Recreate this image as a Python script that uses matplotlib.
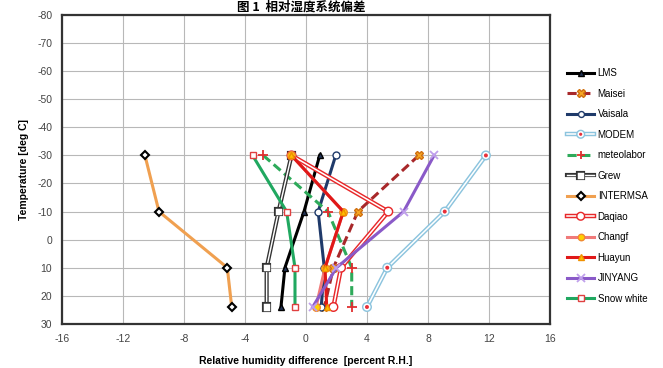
import matplotlib
matplotlib.use('Agg')
import matplotlib.pyplot as plt
import matplotlib.patheffects as pe

plt.rcParams['font.family'] = ['Liberation Sans Narrow', 'Liberation Sans', 'Noto Sans CJK SC']
plt.rcParams['axes.unicode_minus'] = False

# temperature levels (deg C)
temps = [-30, -10, 10, 24]

# relative humidity difference [%RH] per sonde, at each level
lms = [0.9, -0.13, -1.38, -1.64]
maisei = [7.4, 3.4, 1.8, 1.2]
vaisala = [1.95, 0.8, 1.2, 1.0]
modem = [11.8, 9.1, 5.33, 4.0]
meteolabor = [-2.8, 1.44, 3.0, 3.0]
grew = [-0.95, -1.8, -2.58, -2.58]
intermsa = [-10.56, -9.64, -5.16, -4.87]
daqiao = [-0.95, 5.4, 2.3, 1.8]
changf = [-0.95, 2.45, 1.25, 0.66]
huayun = [-0.95, 2.45, 1.25, 1.36]
jinyang = [8.4, 6.4, 2.0, 0.44]
snow_white = [-3.5, -1.27, -0.72, -0.72]

x_ticks = [-16, -12, -8, -4, 0, 4, 8, 12, 16]
y_ticks = [-80, -70, -60, -50, -40, -30, -20, -10, 0, 10, 20, 30]

fig = plt.figure(figsize=(6.63, 3.68), dpi=100)
ax = fig.add_axes([0.0935, 0.12, 0.736, 0.839])

def white_core(color, w):
    return [pe.Stroke(linewidth=w, foreground=color), pe.Stroke(linewidth=w * 0.35, foreground='white')]

lw = 2.2
ax.plot(lms, temps, color='black', lw=lw, marker='^', ms=5, mfc='#223355', mec='black', label='LMS')
ax.plot(maisei, temps, color='#a8282a', lw=lw, ls=(0, (3, 1.5)), marker='X', ms=6, mfc='#f5a623', mec='#d07010', label='Maisei')
ax.plot(vaisala, temps, color='#1f3a6a', lw=lw, marker='o', ms=5, mfc='white', mec='#1f3a6a', label='Vaisala')
ax.plot(modem, temps, color='#8cc4de', lw=lw, marker='o', ms=4, mfc='#e8303a', mec='#f08080',
        path_effects=white_core('#8cc4de', 3.2), label='MODEM')
ax.plot(meteolabor, temps, color='#2eaa5a', lw=lw, ls=(0, (3, 1.5)), marker='+', ms=7, mew=1.3, mec='#e03030', label='meteolabor')
ax.plot(grew, temps, color='#333333', lw=lw, marker='s', ms=4, mfc='white', mec='#333333',
        path_effects=white_core('#333333', 3.0), label='Grew')
ax.plot(intermsa, temps, color='#f0a050', lw=lw, marker='D', ms=4.5, mfc='white', mec='black', mew=1.5, label='INTERMSA')
ax.plot(daqiao, temps, color='#e8282a', lw=lw, marker='o', ms=4, mfc='white', mec='#e8282a',
        path_effects=white_core('#e8282a', 3.2), label='Daqiao')
ax.plot(changf, temps, color='#f07a7a', lw=lw, marker='o', ms=5.5, mfc='#ffd000', mec='#f08a30', label='Changf')
ax.plot(huayun, temps, color='#e01818', lw=lw, marker='^', ms=5, mfc='#ffc000', mec='#f09000', label='Huayun')
ax.plot(jinyang, temps, color='#8a5ac8', lw=lw, marker='x', ms=6, mew=1.3, mec='#c0a0ec', label='JINYANG')
ax.plot(snow_white, temps, color='#20a860', lw=lw, marker='s', ms=5, mfc='white', mec='#e04040', label='Snow white')

ax.set_xlim(-16, 16)
ax.set_ylim(30, -80)
ax.set_xticks(x_ticks)
ax.set_yticks(y_ticks)
ax.tick_params(labelsize=7.5, length=0, colors='#444444', pad=7)
ax.grid(True, color='#b8b8b8', lw=0.8)
ax.set_axisbelow(True)
for s in ax.spines.values():
    s.set_color('#333333')
    s.set_linewidth(1.6)

ax.set_xlabel('Relative humidity difference  [percent R.H.]', fontsize=7.5, fontweight='bold', labelpad=9)
ax.set_ylabel('Temperature [deg C]', fontsize=7.5, fontweight='bold', labelpad=6)

fig.legend(loc='upper left', bbox_to_anchor=(0.848, 0.828), frameon=False, fontsize=7,
           handlelength=2.8, handletextpad=0.35, labelspacing=1.08, borderpad=0, markerscale=0.85)

fig.text(0.455, 0.999, '图 1  相对湿度系统偏差', fontsize=9, fontweight='bold',
         family=['Noto Sans CJK SC'], ha='center', va='top')

fig.savefig('out.png', dpi=100)
